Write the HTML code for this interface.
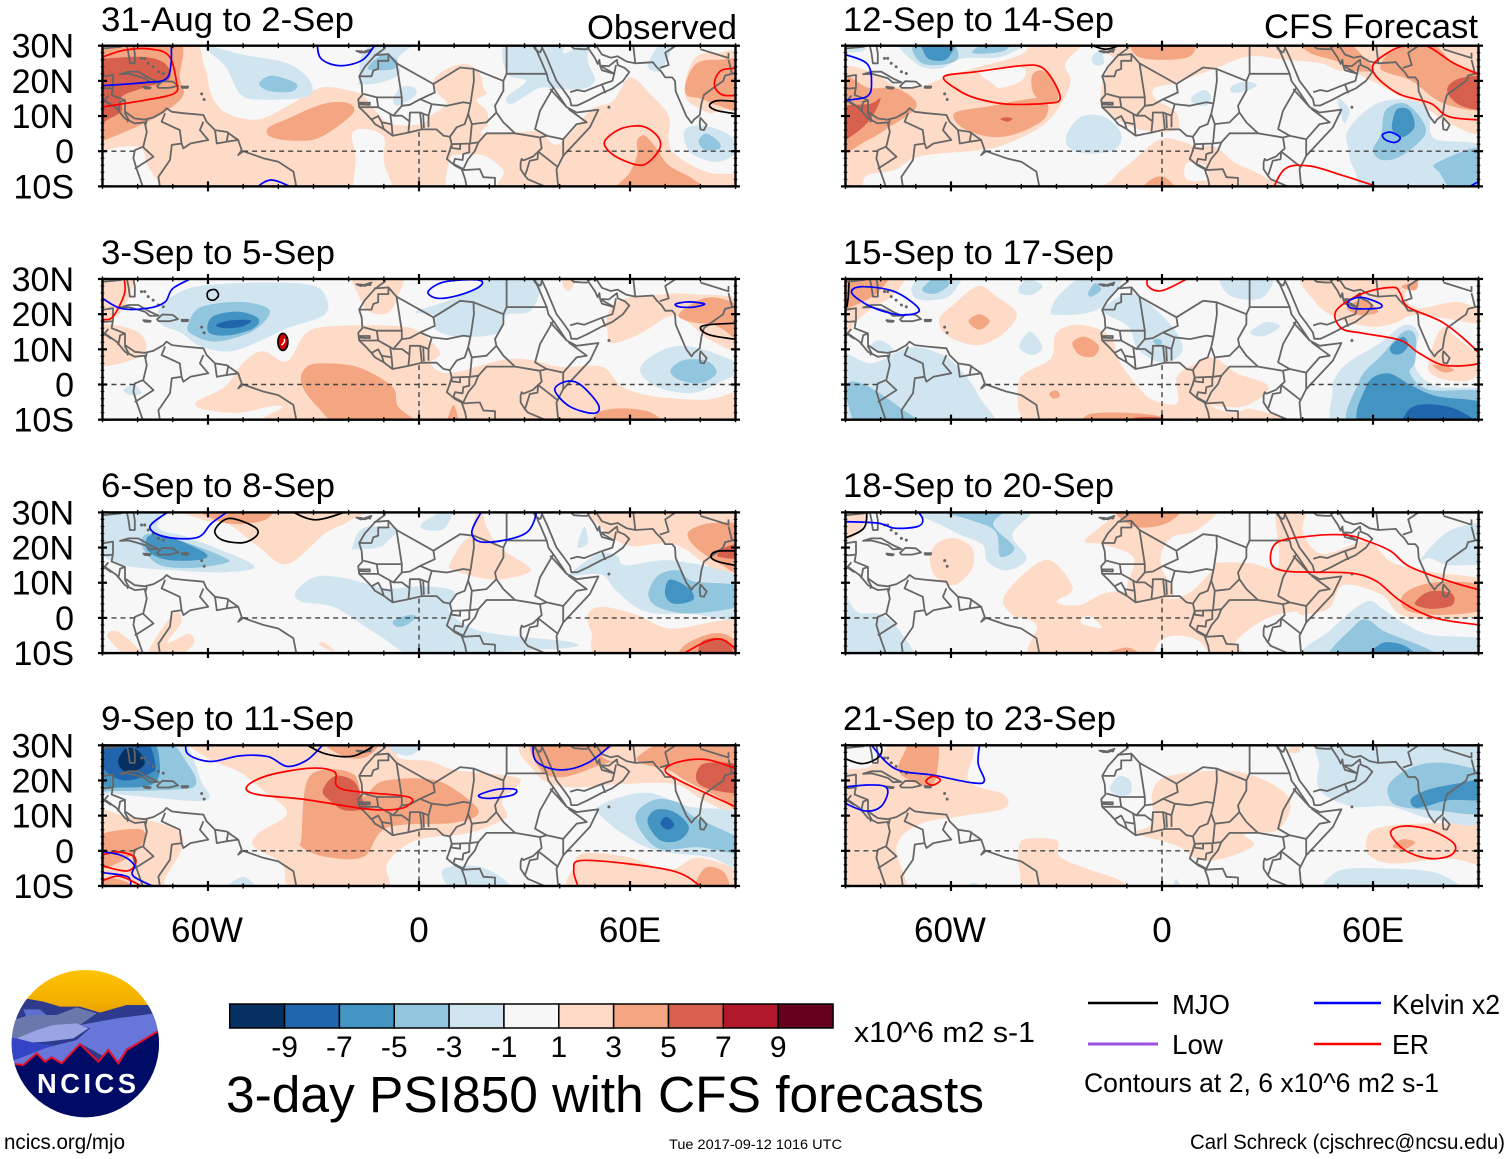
<!DOCTYPE html>
<html lang="en">
<head>
<meta charset="utf-8">
<title>3-day PSI850 with CFS forecasts</title>
<style>
html,body{margin:0;padding:0;background:#fff;}
svg{display:block;}
text{font-family:"Liberation Sans",sans-serif;fill:#000;}
</style>
</head>
<body>
<svg id="chart" xmlns="http://www.w3.org/2000/svg" width="1510" height="1159" viewBox="0 0 1510 1159">
  <rect width="1510" height="1159" fill="#fff"/>
  <g id="panels"></g>

  <text x="587" y="39" font-size="34.6" textLength="150" lengthAdjust="spacingAndGlyphs">Observed</text>
  <text x="1264" y="38" font-size="34.6" textLength="214" lengthAdjust="spacingAndGlyphs">CFS Forecast</text>

  <g id="colorbar"></g>
  <text x="854" y="1042" font-size="29" textLength="181" lengthAdjust="spacingAndGlyphs">x10^6 m2 s-1</text>

  <text x="226" y="1112" font-size="51" textLength="758" lengthAdjust="spacingAndGlyphs">3-day PSI850 with CFS forecasts</text>

  <g>
    <line x1="1088" x2="1158" y1="1003" y2="1003" stroke="#000" stroke-width="2.4"/>
    <text x="1172" y="1014" font-size="28" textLength="58" lengthAdjust="spacingAndGlyphs">MJO</text>
    <line x1="1314" x2="1381" y1="1003" y2="1003" stroke="#00f" stroke-width="2.4"/>
    <text x="1392" y="1014" font-size="28" textLength="108" lengthAdjust="spacingAndGlyphs">Kelvin x2</text>
    <line x1="1088" x2="1158" y1="1044" y2="1044" stroke="#a050e0" stroke-width="3"/>
    <text x="1172" y="1054" font-size="28" textLength="51" lengthAdjust="spacingAndGlyphs">Low</text>
    <line x1="1314" x2="1381" y1="1044" y2="1044" stroke="#f00" stroke-width="2.4"/>
    <text x="1392" y="1054" font-size="28" textLength="37" lengthAdjust="spacingAndGlyphs">ER</text>
    <text x="1084" y="1092" font-size="27" textLength="355" lengthAdjust="spacingAndGlyphs">Contours at 2, 6 x10^6 m2 s-1</text>
  </g>

  <g transform="translate(0,960) scale(0.33333)">
    <defs>
      <clipPath id="logoClip"><circle cx="256" cy="251" r="221"/></clipPath>
      <linearGradient id="sunGrad" x1="0" y1="0" x2="0" y2="1"><stop offset="0" stop-color="#ffc400"/><stop offset="0.7" stop-color="#f2b000"/><stop offset="1" stop-color="#e89c00"/></linearGradient>
    </defs>
    <g clip-path="url(#logoClip)">
      <rect x="30" y="25" width="450" height="140" fill="url(#sunGrad)"/>
      <polygon points="75,115 130,125 180,140 240,140 300,158 380,135 445,135 490,170 490,400 0,400 30,200" fill="#2e3a8c"/>
      <polygon points="70,148 120,148 140,165 80,172" fill="#5f6fd0"/>
      <polygon points="20,185 90,165 170,165 230,142 290,160 240,195 265,205 100,240 20,235" fill="#6a78ac"/>
      <polygon points="240,195 350,175 470,160 490,215 380,265 350,310 240,250 185,310 40,312 45,290 150,260 230,240 270,205" fill="#6776d8"/>
      <polygon points="50,235 110,210 160,195 230,190 265,205 220,235 140,245 90,248" fill="#9aa4e4"/>
      <polygon points="20,232 50,235 100,248 160,255 45,300 25,300" fill="#3344c4"/>
      <polygon points="40,312 70,315 110,280 135,305 155,292 185,310 240,252 295,305 325,270 355,310 380,270 472,215 490,205 490,490 0,490 0,312" fill="#000b66"/>
      <polyline points="40,312 70,315 110,280 135,305 155,292 185,310 240,252 295,305 325,270 355,310 380,270 472,215" fill="none" stroke="#e8102a" stroke-width="6"/>
    </g>
    <text x="111" y="399" font-size="82" font-weight="bold" style="fill:#fff" textLength="297" lengthAdjust="spacing">NCICS</text>
  </g>

  <text x="4" y="1149" font-size="21" textLength="121" lengthAdjust="spacingAndGlyphs">ncics.org/mjo</text>
  <text x="669" y="1149" font-size="14" textLength="173" lengthAdjust="spacingAndGlyphs">Tue 2017-09-12 1016 UTC</text>
  <text x="1190" y="1149" font-size="21" textLength="315" lengthAdjust="spacingAndGlyphs">Carl Schreck (cjschrec@ncsu.edu)</text>
</svg>

<script>
// ---------- colour scale values ----------
const colorLevels = [-9,-7,-5,-3,-1,1,3,5,7,9,11];
const colorValues = ['#053061','#2166ac','#4393c3','#92c5de','#d1e5f0','#f7f7f7','#fddbc7','#f4a582','#d6604d','#b2182b','#67001f'];
const colorbarTicks = ['-9','-7','-5','-3','-1','1','3','5','7','9'];
const latTicks = [30,20,10,0,-10];
const latTickLabels = ['30N','20N','10N','0','10S'];
const lonTicks = [-60,0,60];
const lonTickLabels = ['60W','0','60E'];
const panelTitles = ['31-Aug to 2-Sep','3-Sep to 5-Sep','6-Sep to 8-Sep','9-Sep to 11-Sep','12-Sep to 14-Sep','15-Sep to 17-Sep','18-Sep to 20-Sep','21-Sep to 23-Sep'];

// ---------- PSI850 anomaly bands: [level, [lon,lat, lon,lat, ...]] ----------
const shade31Aug = [
[3,[-92,32,-66,32,-61,24,-59,16,-55,11,-46,9,-37,13,-28,18,-19.6,17.2,-15.8,15.8,-12,11,-7.8,7.7,0.8,7.7,3,10,7.9,13.4,5.5,16.3,4,20,7.9,23.4,13.5,24.8,17.3,22,18.3,18,19.2,16.3,16.4,14.4,19.2,11.5,19.7,7.7,17.8,5,27.8,5.4,34.4,5.4,38.2,2,41,3,45.8,8.2,47.7,10.6,50,12.5,55.3,14.4,60,21,66,16,71,10,71,3,73,-1,82,-6,92,-7,92,-13,-92,-13]],
[3,[76,21,79,27,85,28,92,27,92,9,85,10,80,12,76,15]],
[1,[-19,5,-15,6.3,-10,4,-10,-3,-7.5,-10,-8,-13,-18,-13,-18,-2]],
[1,[8,-5.5,9.3,-1.5,12.6,-1,18.3,-1.2,24,-5.5,22,-10,22,-13,8,-13,7.5,-9]],
[1,[-92,-1.5,-80,1.3,-77,-4.5,-73.5,-10,-74,-13,-92,-13]],
[1,[72,3,76,8,84,11,92,11,92,-3,84,-4,76,-1]],
[-1,[-61,30,-50,27.4,-37.5,25,-31,20,-32,15.5,-46,14.7,-51,16.5,-55,24]],
[-1,[-17,20,-16,28,-10,32,0,32,-6,26.5,-5.5,22,-11,19.5,-17,19]],
[-1,[-7.3,15,-5,18.2,-1.6,18.2,-0.7,16.3,-3,14.4,-6.4,13]],
[-1,[25,31,40,31,41,28,43,28.5,48,31,48,25.5,50,20,45.5,17.5,37.5,18,33.5,17.7,26.5,13.5,25,15.5,30.5,20,25,22]],
[-1,[65,24.5,69,31,72.5,31,70,25,68,22.6]],
[-1,[76,6.5,81,7.2,87.6,5,91,0.4,85,-3,78,-1,75.5,3]],
[5,[-92,32,-69,32,-68,21,-67,16,-71.5,11.7,-78,8,-89,3.3,-92,3]],
[5,[-43,6.5,-38,9,-27,13.5,-20,13.6,-19,10.5,-28,4,-35,3,-42,4]],
[5,[62,3,64,4.5,67,1.5,71,-4,78,-8,82,-13,56,-13,60,-6,62,-1]],
[5,[76,20,79,25,85,26,92,25,92,12,85,13,80,15,76,16]],
[-3,[-45,20,-41.6,21.5,-35,19.3,-36,17,-42,17,-45,18.4]],
[-3,[-14.5,24,-10.3,27.4,-6.3,26,-7,23.5,-13,23]],
[-3,[79.5,2.7,81.5,5,85,3,85.5,0.8,81.5,0.3]],
[7,[-92,26,-88.6,26.4,-78.4,26.8,-72.3,25,-71,20.5,-78.4,18,-84.5,15.5,-84.5,11.5,-88.6,9,-92,8]]
];
const shade3Sep = [
[3,[-92,32,-82,32,-82,26,-86,19.3,-92,18]],
[3,[-92,16.5,-80,15,-78.5,8.5,-92,5.5]],
[3,[-18.5,32,-5,32,-6,25,-9,20.3,-14.4,20.8,-17,25]],
[3,[-63.4,-5,-55.2,-0.6,-50,6.2,-44.4,9.5,-37.5,6.6,-32,14.7,-24,16.6,-6,16.6,0.5,14.7,6,9,3.3,6,8.7,3.2,23.7,7,31.8,7,40,5,52,5,57.7,-0.6,67,-3.4,82,-4.3,92,-2.4,92,-13,-35,-13,-39,-6.2,-51,-8,-60.7,-7.2]],
[3,[53.6,19.8,57.7,24.2,70,25.7,76.7,25.7,92,23.5,92,10,83,12.5,76,18,71,19.3,63,14.5,55,11.7,53.6,15]],
[3,[41,32,45,32,43,26.8,41,28]],
[-1,[-73.6,22,-67.5,26.5,-60,28.3,-45,29,-32,28.5,-27,26,-26.7,20,-37.5,16,-45.6,12.2,-54,9.4,-62,10.8,-67.5,14.6,-73.6,17.4]],
[-1,[-1,20.7,10,24.5,25,32,35,32,32,21.2,25,19.8,22,14.5,11.4,13.6,4.7,15.6,4,19.8]],
[-1,[63,5,67.3,8.8,74,11,82,9.6,92,4.8,85,0.4,78,-2.4,70,-1.5,64.5,1.3]],
[-1,[-84,-1.5,-81,-0.1,-79,-2.5,-82,-3]],
[5,[-33.5,0.4,-32,5,-26.7,6,-17,4.8,-7.6,-0.6,-6,-6.2,-0.8,-12,-21,-12,-29,-6.2]],
[5,[8.7,-8,10,-6,11.4,-12,8,-12]],
[5,[51,-8,57.7,-6.8,66,-8,68.5,-12,50,-12]],
[5,[74,20.2,81,24.5,87.6,24,92,21,92,12,85,16.5,76.5,18]],
[-3,[-65.5,17.4,-62,22,-51,23.5,-43,21.7,-43.5,18.4,-48.5,14.6,-58,12.2,-65,14.6]],
[-3,[71.5,4,75.5,7,82,6.6,84.6,3.2,80,0.4,74,1.3]],
[-5,[-60,17.4,-57.7,19.8,-51,20.7,-45.7,18.8,-47,16,-53.9,14,-59.4,14.5]],
[-7,[-57.7,16.9,-53.9,18.2,-47.8,18.2,-50.5,16.4,-55.2,16]]
];
const shade6Sep = [
[3,[-66,32,-16,32,-20,27.5,-26.7,24,-37.5,15.3,-46,20.5,-54,26.5,-62,28]],
[3,[17,32,19.6,25,23.6,19.5,31.8,13.7,23.6,11,17,11.5,10,13.5,8.7,15,12,21,14.8,24]],
[3,[51,32,92,32,92,12,83.5,14,72.6,21,60,20.5,52,25.5]],
[3,[48,0.9,52,3.2,61.8,0.9,71.3,-3,84.6,-1,92,-1,92,-12,53.5,-12,49,-4]],
[3,[-88.7,-5,-85.4,-4,-79,-10,-84,-10]],
[3,[-75.6,-7,-69.5,1.4,-67.5,-1,-71.5,-7,-65.5,-4.5,-64,-7,-67.5,-10,-76,-10]],
[3,[-28.5,-7.5,-27,-7,-24,-9.5,-26,-9]],
[-1,[-92,32,-74,32,-74,25.5,-65,22.7,-47,15,-55,13,-69,13.5,-84,15,-90,19]],
[-1,[-35,7.5,-29.4,11.7,-21,11.3,-9,8.4,0.5,9,10,7.5,8.7,1.8,15.4,-3,25,-5,42.7,-6.8,42.7,-8.5,16,-10,0.5,-12,-11.7,-4.8,-24,3,-33.5,4.6]],
[-1,[0.5,26.5,4.6,29.3,10,32,7.3,25.5,2,25]],
[-1,[-19,20,-15.8,25.5,-6.3,25.5,-9,21.7,-11.7,20,-18,19.5]],
[-1,[45,20.5,47,26,48,21.5,46,20]],
[-1,[43.4,13,51,18.2,56.3,17.7,59,15,72.6,16.3,92,11,92,0,78,1,64.5,1.8,56.3,7.5,52,12.3,44,12]],
[5,[-63.4,32,-43,32,-43.5,28,-52.5,26.7,-59.3,28.5]],
[5,[76.7,24.6,83.5,27,92,25.5,92,13,85,15.7,78,20.7]],
[5,[75.5,-7.8,83.5,-4.4,89,-5.8,92,-12,75,-12]],
[-3,[-79,21,-76,24,-64.6,20.9,-55,17,-55,15.6,-64.6,14.2,-74,15.2]],
[-3,[65.2,6.5,68,12.1,74,13.5,78,10.4,92,9,92,3.7,78,1.3,68.6,2.8]],
[-3,[-7.4,-1,-3.5,0.7,-0.8,0.4,-3.5,-2,-6.3,-2.5]],
[7,[87,20,92,21,92,17,85,17.5]],
[7,[80.5,-6.7,86.5,-6,89,-10.5,80,-12]],
[-5,[-77,23.2,-71.5,23.2,-60.7,18.4,-62.7,16.5,-71.5,16.5,-77,19]],
[-5,[70,6.5,71.3,10.9,76.7,8.5,78,5.2,72.6,4]]
];
const shade9Sep = [
[3,[-62,32,-10,32,-6,26.5,3,25.5,10,23,22.3,21.7,29,20,23.7,14.5,25,10.6,23.7,8.7,14,5,-0.8,3,-9,-3.6,-10,-12,-35,-12,-39,-3.6,-47,1.1,-45.7,5,-37.5,10.7,-44.4,17.3,-51,22.4,-60.7,26.7]],
[3,[-92,10,-84,10,-70.5,6.8,-67,2,-72,-7.4,-74.3,-12,-92,-12]],
[3,[33,32,92,32,92,11,81,14.4,72.6,19,58,19,41.4,18.2,33,22.4]],
[3,[44,-4.5,47,-0.7,59,-1.7,71,-5.5,79.5,-2,92,-6.4,92,-12,46,-12]],
[-1,[-92,32,-69,32,-62,20,-60.7,14.4,-78.5,15.4,-87.3,16.3,-92,17]],
[-1,[-8,30,-2,32,3,32,-2,27.3,-7,28]],
[-1,[6.7,-5.4,17,-4.5,25,-8.8,25,-12,11,-12]],
[-1,[-56,-12,-50,-7.4,-46,-12]],
[-1,[51,12.6,57.7,15.4,66,16.4,76.7,12.6,92,10,92,-4.5,82,-1.7,67,0.2,57.7,5,51,10.7]],
[5,[-33.4,4,-32,19.4,-26.7,23.1,-18.5,21.7,-15.8,15.5,-10.3,19.8,3.3,20.3,11.4,16.6,17,11,10,8,-9,6.6,-15.8,-1.7,-26.7,-1.7,-33.4,1.1]],
[5,[-92,4,-78.8,6,-80,0.2,-88,-4.5,-92,-4]],
[5,[-90,-8,-84,-8.5,-79,-12,-92,-12]],
[5,[-28,32,-11.7,32,-14.4,27,-21,26.7]],
[5,[33,32,56,32,52,27,57.5,24.5,53.6,25,41.3,21,34.6,23]],
[5,[63,27.4,72.5,32,92,32,92,12,85,15.4,75.8,20,71,22.9,63,25]],
[5,[79,-8.4,82,-4.6,87,-6.4,87.6,-12,79,-12]],
[-3,[-92,32,-73,32,-65.5,24.3,-63.4,19,-68,17.5,-87,17,-92,18]],
[-3,[61.8,10.7,67.2,14.6,74,13.6,78,9.8,92,3,92,-1,79.5,1,68.6,0.5,63,5.7]],
[7,[-27.4,17,-24,21.2,-18.5,19.8,-15.8,14,-14.4,12,-21,11.5,-25,14]],
[7,[79,22.4,82,25,92,24,92,17,85,17,79.6,19]],
[-5,[-92,27.5,-92,32,-77,32,-73.7,24.8,-75.6,19,-85,18,-90,19]],
[-5,[65,8,67.2,11.6,72.6,11,76.7,6.8,74,3,68.6,3]],
[-7,[-90,24,-88,31,-78,31.5,-75,24.8,-76.4,22,-84,20]],
[-7,[68.6,7.8,70.4,9.7,72.6,7.4,70.6,6]],
[-9,[-85.5,25.7,-83.4,29,-80,28.6,-78,24.8,-81.4,22.4,-84.4,23]]
];
const shade12Sep = [
[3,[-92,21,-83.4,22.8,-75.8,18.5,-69.6,18,-62.7,20.6,-53.8,23.5,-40,27.5,-36,32,-22,32,-27.5,25,-26,20,-29,13,-34.3,7,-44,2.2,-51,0.4,-69,-1.5,-75.8,-5.3,-84,-7,-86,-12,-92,-12]],
[3,[-10,32,-14,26,-17,19,-17,13.5,-12.5,9,-5.5,6,4,6,4,11,-2,15,-2,18,4,19.5,15,23.5,25,27,35,26,45,25,50,23,54,22.6,61,19.3,68,15.5,76,11.7,81.5,8,92,6.4,92,32]],
[3,[-13.6,-7.5,-8,-2.5,-1,3.2,4.3,3.2,10,1.3,15,1.3,21,-3.4,29,-7.2,32,-12,-14,-12]],
[1,[-48.3,19.3,-46,18,-40,20,-39,23.5,-45.5,24,-52,22.6]],
[1,[7,-3.4,12,-4,13,-8,7,-8]],
[-1,[-73,32,-70,25,-63.4,23.5,-56.6,26.4,-45.5,26.9,-40,32]],
[-1,[-92,32,-84,32,-85,28.5,-92,28.5]],
[-1,[-27,5,-23,9.8,-16.4,9.8,-11.6,5,-13.7,0.3,-22,-0.6,-26.7,1.3]],
[-1,[-20,26.8,-17.5,28.5,-16.5,25,-19,24.5]],
[-1,[19.7,18.4,23.7,19.8,27,18.8,23.7,17,20,16.7]],
[-1,[8.5,15.5,12,17.4,14,15.5,12.6,13,9,13.6]],
[-1,[50,14,50.5,15,53.3,11.7,51.8,8]],
[-1,[53,6.2,61,13.5,71,14.5,76,11,77.5,3.6,92,1,92,-13,60.8,-13,54.6,-5,53,0.4]],
[5,[-92,21,-83.4,18,-76,18,-70.5,14.8,-70.5,11.7,-77.3,7,-84,3,-92,0.5]],
[5,[-59,10.8,-49.5,12.7,-34.4,15,-33,9.8,-40,5.5,-48,4,-56.5,6.5]],
[5,[-37,21.3,-34.4,23,-31,20.3,-29.5,15,-33,13.6,-36.5,16.4]],
[5,[-8,32,8,32,8.4,27.3,1.5,26,-7,27]],
[5,[39,32,51,32,58,26,60,23,54,23,50,25.5,42,28]],
[5,[62,24,66,29,76,31,83,25,92,21,92,12,80,13.6,71,20,65,22]],
[5,[-6,-12,-3,-8,1,-7.5,4,-12]],
[-3,[60,0.4,62.3,5,63.6,11.7,69,13.6,74,8.8,74.5,4.2,67.7,-1.5,62.3,-2.4]],
[-3,[78,-3.4,92,0.8,92,-13,84,-13,79,-6.2]],
[-3,[-71,31,-64,32,-60,32,-58,26.4,-63.4,24.5,-69,25.5]],
[-3,[-54,28,-48,32,-43,32,-45,28.5]],
[7,[-92,12,-83,13.5,-80,15,-83,9,-88,4.5,-92,3]],
[7,[81.6,18.8,85.8,21,92,20.5,92,12.5,85.8,12.6,81.6,15.8]],
[7,[-46,9.2,-44,9.6,-42.5,9.2,-44,8.4]],
[-5,[65.6,8.8,67,12.1,70.4,11.6,71.8,6.9,68.4,4,65.6,5.9]],
[-5,[-68,32,-59,32,-61,26.4,-65.5,25.9,-67.6,27.8]]
];
const shade15Sep = [
[3,[-92,32,-74,32,-76,25.8,-83.4,21,-88.2,16.3,-90,11.5,-92,11.5]],
[3,[-63.4,18.4,-59,23,-52.2,28,-47,25,-41.3,20.2,-45,14.6,-52.2,11.2,-60.6,13.6]],
[3,[-41,-5.3,-40,2.3,-31.6,7.4,-30,14.7,-23.3,17,-15,13.9,-12,6.4,-6.8,-0.6,-2.6,-4.4,4.3,-5.3,4.3,2.3,10,6.2,15,7.6,21,3.4,30.3,-0.6,23.5,-6.2,14,-6,20,-8,26,-7,34,-12,-38,-12,-40,-9]],
[3,[41,32,73,32,69,25.5,73,21.7,84,23.5,92,20,92,17,88,17.5,72.6,19.8,66,17.4,59.5,16.4,51,18.4,44,23]],
[3,[75.8,6,78,13.6,80.7,16.4,83.5,13.6,92,7,92,5.8,87.7,1.3,80.7,1.3,76.4,3.2]],
[-1,[-71,28,-67,32,-57,32,-60,25.5,-65,24,-70,24.5]],
[-1,[-40.5,28,-38,30,-34,28,-37,25.5,-40.5,26]],
[-1,[-31.6,21,-29,25.7,-20.5,32,-10.7,32,-16,23,-22,20.2,-30,19.8]],
[-1,[-17,21.6,-9.2,25.9,-2.6,22,4.3,14.6,5.6,9,0,6.2,-6.8,10,-9.5,16.4,-16,20]],
[-1,[17.5,32,31.2,32,29,25,22,24.4,17.5,27]],
[-1,[25.6,15.5,30,17.8,33.5,16.4,29,13.8,25.6,14.2]],
[-1,[-40.6,10.7,-37.5,15,-34,10.7,-36.8,8.4]],
[-1,[-82.7,11.2,-80,12.6,-76.5,10,-80,8.9]],
[-1,[-92,8,-82.5,6,-72,10.5,-63.5,8.9,-58,5,-52,-3.4,-50,-13,-92,-13]],
[-1,[50,3.2,54,7,62,11.8,69,17,73,14.6,71.5,8,73,3.2,78.5,-0.6,92,-2,92,-13,52,-13,48.5,-2]],
[5,[-92,32,-78,32,-81,26,-89,21.7,-92,20]],
[5,[-55,18,-52,20,-49,18,-52,15.6]],
[5,[-25.5,11.8,-22,13.6,-18,11,-19.4,8,-23.4,8.4]],
[5,[-32,-2.5,-30,-1.7,-29,-3.3,-31,-4]],
[5,[-21,-8.6,-12,-8,-1,-9,0,-12,-21,-12]],
[5,[52.5,22,57.3,24,61.5,20.7,56,19.8]],
[5,[68,27.8,72.5,29.3,72,26.8]],
[5,[77,5.5,81,5.2,83,4,80,3.5]],
[-3,[-91,-2,-88.5,0.8,-83.5,-0.6,-75,-6.2,-67.5,-13,-85,-13,-89.5,-5]],
[-3,[55,-13,56,0.8,62.5,8.4,68.7,15,72,14,72,6.6,70.5,3.2,76,-1.5,92,-2.4,92,-13]],
[-3,[-68,27.5,-63.5,31,-60.5,28.5,-64,26,-67,26]],
[-3,[-21,26,-19,28.8,-17.3,27,-20,25]],
[-3,[-2.5,12.4,-1,13,0,12,-1,11]],
[7,[-8,-9.5,0,-9.5,0,-12,-8,-12]],
[-5,[58,-13,58,-0.6,64,3.2,71.5,-0.6,78.5,-3.4,92,-5.5,92,-13]],
[-5,[65,10.8,68.5,13.6,70,11.2,68,8.8,65.5,8.8]],
[-7,[69.5,-8,73.5,-5.7,81.8,-6.4,88.7,-10,89,-13,69.5,-13]]
];
const shade18Sep = [
[3,[-92,32,-84,32,-86,24.6,-92,22]],
[3,[-66,16,-64.5,20.8,-59,22.7,-54,19.8,-54,14,-59,9.4,-64,11.3]],
[3,[-22,21.7,-18,25.5,-12.3,30,-11,32,15,32,10,25,3,23,0,18.9,0,14,3,6,-9.5,7.4,-8,17,-16.4,20.8]],
[3,[-44.7,6.6,-33,16.5,-25.4,8.5,-30,4.6,-23.3,3.7,-13.7,7.5,4.3,5.6,14,13.2,15.3,15.6,25,15.6,33,15,32.6,32,41,32,40,24.6,45.6,18.2,58,22,62,19,66,15.5,77,13,92,10.4,92,1.8,81,-0.5,68,0.9,62.5,6.6,51.7,9.4,47.5,2.8,40,0.9,37.4,1.8,29,-0.5,21,-6.8,21,-13,-34,-13,-35.7,-2,-42.6,0.9]],
[1,[-23,-0.5,-20.5,0.5,-17,-2.8,-22,-2]],
[1,[-1,-7,4.3,-5,11,-7,13,-13,-1,-13]],
[-1,[-74.5,32,-70,29.5,-63,26.5,-57.3,23.6,-51,20.8,-49.6,16,-44,13.5,-38.5,17,-42.6,23.6,-38.5,32]],
[-1,[-92,8.5,-86.8,1.8,-80,1,-74.5,-3.8,-71,-13,-92,-13]],
[-1,[40.5,-13,48.4,-3,58,4.6,62.5,2.7,68,-1,76.4,-4.8,92,-6.2,92,-13]],
[-1,[73,16,81.5,24.6,92,26,92,13,90,15,81.5,15,76,17]],
[5,[-20,-12,-10,-8.4,-6,-12]],
[5,[-13.5,32,5,32,1.5,27,-8,26]],
[5,[68,5.5,72,8.8,80.5,10.3,92,9,92,2.8,81.5,0.9,70.4,1.8]],
[-3,[48,-13,55,-2,58.8,-0.7,63.6,-4,76,-9,80,-13]],
[-3,[-68,32,-45,32,-48,26.5,-42,20,-46,17.5,-47.4,24.6,-55,28]],
[7,[72,4.5,76,7.5,82.3,7,82.6,3.7,77.4,2.6,73.3,3.2]],
[-5,[58,-13,62.5,-7.2,69.5,-8.2,73,-13]]
];
const shade21Sep = [
[3,[-92,32,-56,32,-55,20,-45,16,-45,12,-57,9.9,-69,7.5,-75.5,1,-73,-13,-92,-13]],
[3,[-7,5,-2.6,8,-2.6,17.3,3,21.5,22,22.4,36,15.3,33,6,23.5,5,26,1.4,16.7,-2.4,10,-2.4,4.3,1.4]],
[3,[-40.6,1.4,-38.5,3.4,-30,3,-29,-1.7,-20.5,-5.4,-12,-8.4,-8,-13,-36,-13,-40.6,-5]],
[3,[58,2.1,61,6.4,76,7.8,92,6.8,92,-3.6,81.5,-2.2,66,-3.6,59.4,-1.7]],
[3,[36,29,39,30.5,39,28,36,28]],
[1,[-92,29,-84,31,-78,31,-83,24,-92,24]],
[-1,[44.7,24,48,32,92,32,92,9,77,9,65,12.6,54,12.6,45,17]],
[-1,[-14.8,17.7,-12.3,21.2,-9,20,-9,16.3,-12.3,15.8]],
[-1,[48,-13,49.6,-6,62,-5,78.7,-6.5,84,-13]],
[-1,[3,-13,4,-8,6,-13]],
[-1,[-57,-13,-53.5,-9,-50,-13]],
[5,[-75,23.2,-73,28.5,-71,32,-64,32,-64,22,-66,18.4,-71.6,20]],
[5,[65.6,1.2,68.4,3.3,72,2.4,69,0.5]],
[-3,[64.6,19,69.5,23,76.4,25,84.7,24.3,92,21,92,11,78.7,11.4,67.7,12.6,64.6,15]],
[-5,[71,15,76.4,17.6,86,19.5,92,20.5,92,14.8,81.5,14.4,74.6,12.5,71.5,12.5]]
];

// ---------- wave filter contours: [wave, closed, [lon,lat, ...]] ----------
const waves31Aug = [
['E',0,[-92,26,-84,28.7,-76,29,-71,27,-69,20,-69.5,16.5,-78,14.5,-92,12.3]],
['K',0,[-92,18.5,-78,19.5,-72,20.5,-70.5,25,-70.5,32]],
['K',0,[-29,32,-28,26.5,-22.5,24.3,-16,26,-12,31]],
['K',0,[-48,-12,-42,-8.2,-33,-12]],
['E',1,[53,3.2,57.7,6.5,63.8,7,68,4,68.3,0.4,63.8,-3.9,57.7,-2.4,53.6,0.4]],
['E',0,[92,23.6,86,23,84,19,86.3,16,92,16]],
['M',0,[92,14,85,14.4,82.6,13,85,11.5,92,10.4]]
];
const waves3Sep = [
['E',0,[-84,31,-83.7,26,-87,19.3,-90,18.4,-93,18]],
['K',0,[-92,26,-85,21.7,-77,21.7,-72.2,23.5,-70,27.3,-64,30.5]],
['M',1,[-60,26.4,-58,27,-57,25.4,-58.3,24,-60,24.5]],
['K',1,[2.6,26.4,7.3,29.2,17,29.7,17.2,27.8,11.4,25.4,5.3,24.5]],
['K',1,[73,22.9,76.7,23.5,81.2,22.9,78,22,74,22.1]],
['M',0,[92,17.5,82.5,17,80,16,83,14,92,12.6]],
['K',1,[38.6,-1.5,42,0.9,46,-0.1,51,-5.8,49.7,-8.2,42.8,-6.2]]
];
const waves6Sep = [
['K',0,[-70,31,-76.5,26,-72,23,-63,22.9,-59,26.9,-53.9,30.5]],
['M',1,[-58,25,-54,28.3,-47,26,-46,23.6,-50,21.4,-56,22.2]],
['M',0,[-37.5,31,-29.4,27.9,-18.5,31]],
['K',0,[18.2,31,15,24.2,19,21.5,30.5,24.2,34,32]],
['M',0,[92,19,85,19,83,17.5,85,16,92,14.5]],
['E',0,[75.5,-10,81,-7,85.6,-6,89,-8,92,-12]]
];
const waves9Sep = [
['K',0,[-66,32,-65.8,27.6,-59.3,25.4,-51,27,-43,26.8,-37.5,24,-32,25.7,-27.4,30]],
['M',0,[-33.5,31,-26.7,27.6,-18.5,27,-11,31]],
['E',1,[-49,18.2,-43,21.4,-30.8,23.5,-24,22.4,-22,17.6,-3.5,15.4,-3,13,-7.6,11.7,-16,12,-32.4,14.6,-46,16]],
['K',1,[17,15.8,22.3,17.5,27.5,17.4,26.4,15.8,19.6,14.9]],
['K',0,[32.5,32,33.2,25.6,40,23,48,25,55.6,31]],
['E',0,[92,22.7,82,25.9,74,25.3,70,23,74,20,92,11.6]],
['E',0,[46,-12,44,-5.5,47.5,-2.7,71.3,-5.5,80,-10]],
['E',1,[-92,-2,-86,-0.3,-81,-1.7,-81,-4.5,-84,-5.7,-92,-3.5]],
['K',0,[-92,0,-85,-1.2,-81,-4,-81,-7.4,-71,-12]],
['K',0,[-92,-6,-84,-7,-82,-8.5,-82.5,-12]],
['E',0,[-92,-9.4,-85.5,-7.2,-79,-10]]
];
const waves12Sep = [
['E',1,[-62,21.2,-52.7,22.6,-40,24.3,-34.5,24,-31,20.2,-29,14.8,-33,13.6,-44,13.4,-52.7,15,-58,17.4]],
['E',0,[92,21,83,25,75,30,67.7,29.7,61,25.7,60,22.8,62.7,19.5,68,16,76.4,13.6,81.6,9.8,92,8.8]],
['E',0,[31,-12,35,-5,42,-4.2,51,-6.8,61,-10]],
['K',0,[-92,28,-84,25,-82.6,19,-84,15.5,-90,14.5,-92,14.4]],
['K',1,[62.7,4.7,65,5.4,67.7,3.9,66.3,2.5,63.6,3.2]],
['K',0,[84,-12,92,-7.5]],
['M',0,[-22,31,-16,29,-10,31]]
];
const waves15Sep = [
['K',1,[-88.2,26,-85.4,27.8,-76,26.4,-69,21.2,-74.5,19.8,-82.7,22.1]],
['M',0,[-89,29,-89.2,25,-89.6,22]],
['E',0,[-4,31,-4,28,0,26.7,8,30.5]],
['E',1,[49.5,21,57.3,26,65.6,27.6,67.7,26,70,22,80.2,17.4,90,9,90,6,80.2,5.5,73,9,67.7,12.6,57,14.6,51,16]],
['K',1,[53,23.6,56.6,24.8,62,23,61.5,21.7,54,21.7]]
];
const waves18Sep = [
['K',0,[-92,27.4,-81,27,-76,25.5,-69.5,26,-68,28,-70,31]],
['M',0,[-84,32,-84.8,25.5,-92,22]],
['E',0,[92,7.5,82,10.3,70.4,14.6,65,19,58,22,52,23.6,41.5,23.2,32.5,21.3,31,15.6,34.6,13.4,43,13,54,12.7,61,10.4,68,4.7,77.6,0,92,-2.2]]
];
const waves21Sep = [
['M',0,[-92,27,-85.5,24.8,-80.5,26.7,-80,30,-84,32]],
['K',0,[-83.4,31,-76,23.4,-65,21.5,-53.7,19.3,-50.5,20,-52.3,25,-51.6,32]],
['E',1,[-67,20.1,-65,21.2,-63,20.1,-65,18.7,-66.7,19.2]],
['K',0,[-92,18,-84,18.7,-79,18.4,-78,16.3,-80,12.5,-84,11.3,-89,13,-92,15]],
['E',1,[65,5,68.4,7,76,6,83,2.1,82.2,-1.2,76,-2.2,69,0.2]]
];
const hurricaneLon = [-38.7];
const hurricaneLat = [12.1];

// ---------- basemap (lon,lat polylines) ----------
const coastlines = [
[-9.7,30.5,-9.7,29.3,-12.5,27.2,-15.4,24,-17,21.3,-16.3,19,-16.1,16,-17.3,14.7,-17,12.5,-15.4,11,-13.5,9,-12.5,7.7,-10,6.3,-7.5,4.4,-3,5.3,0.8,6.2,5,6.2,7,4.4,8.8,4.1,9.3,2,8.6,-0.3,7.9,-2.2,10.2,-4.1,12.1,-5.1,13.1,-7.9,13.6,-10.4],
[33,30.5,33,29.6,34.7,25.8,36.3,22,36.8,20,38.2,18.1,42,12.5,44.8,11,51,11.8,48.6,6.8,41,-1.3,39.1,-5.1,39.6,-10.5],
[-84,30,-85,29.7,-90,29.2],
[-83,29.7,-82.6,27.8,-82.2,25,-80.8,25,-80.8,27.8,-81.3,30.5],
[-90,21.2,-87,21.7,-87,18.3,-87.4,16,-83.6,14.5,-83.6,11.2,-80.8,9.3,-78,9,-75.5,9.6,-72.7,11.2,-71.8,12.2,-70.3,11.2,-67,10.8,-61.3,10.3,-60.4,8.4,-58,6,-54.7,5.5,-51.4,3.2,-50.4,0.3,-51.4,-1.1,-50,0,-44.3,-2,-40,-3,-35.7,-5.8,-34.8,-10.5],
[-91,15,-89.3,14.5,-86,12.2,-83.6,9.3,-80.8,7.9,-78,8.2,-77.4,5.5,-78.4,1.3,-80.8,0.3,-81.2,-2,-80.3,-5,-78.4,-10.5],
[34.5,28,35,29.5,36.3,26.7,39.1,20,41,17.5,42.9,14.8,43.3,13,45,13,48,14.4,52,16.5,55,17.8,58,20,59.8,22.5,58.5,23.7,56.5,24.5,56.3,26,55,25,54,24.2,51.5,24.3,51.3,26,50.8,24.8,50,26.5,48,29.5,49,30],
[34.5,28,33,29,32.5,30],
[49,30,50.5,29.8,52,27.5,54.5,26.6,56.5,27,59,25.5,61.5,25,66.5,25.3,67.5,24,69,22.5,70,21,72,21,72.8,20,73,17,74.5,13.5,76,10,77.5,8,78.2,9,79.8,10.3,80.3,13.5,81,16,83,17.5,86.5,20,87,21.5,89,22,91,22.5]
];
const islands = [
[-85,21.9,-82.6,22.6,-79.8,22.6,-76.5,20.7,-74.1,19.6,-76.5,19.5,-77.9,20.7,-80.3,21.4,-82.6,22],
[-74.5,18.5,-73,19.9,-70,19.8,-68.5,18.6,-71,18,-74,18],
[-78.4,18.3,-76.3,18.1,-76.5,17.8,-78,17.9],
[-67.5,18.4,-65.6,18.4,-65.8,18,-67.4,18],
[-17.8,28.5,-16.2,28.4,-15.5,28,-14,28.5,-13.5,29,-16.5,28],
[80,9.5,81.8,7.5,81,6,80,6.2,79.8,8],
[29.2,-2.2,29.7,-2.6,32.4,-1.5,33.9,-0.1,33.7,-2.3,31.5,-2.7,30.6,-5.6,30.1,-7,28.9,-5.1,28.9,-3.2]
];
const smallIslandLon = [-78.9,-78,-77,-75.6,-74.1,-72.7,-61.8,-61.1,54,-16.5,-14];
const smallIslandLat = [26.4,26.4,25,24,22.6,22.1,16.3,14.7,12.5,28.2,28.4];
const borders = [
[-12.8,27.3,-8.7,27.6,-8.7,25.7,-11.6,25.7,-11.6,23.4,-13,22.9,-13.5,21.3,-17,21.3],
[-8.7,27.6,-6.4,25,-4.9,15.3,-12,15.3,-15.8,16.3],
[-6.4,25,4.1,19.1,4.5,16.7,0.3,14.8,-2.6,13.2,-4.9,12.9,-7.3,10.1],
[-4.9,15.3,-4.9,12.9],
[-12,15.3,-11.6,12.5,-8.2,10.6,-7.3,10.1,-4.9,10.1,-2.7,8.5,-3,5.3],
[4.1,19.1,11.7,23.8,15.5,23.4,24,20,24.9,22],
[24.9,31,24.9,22,36.3,22],
[24,20,24,17.2,21.6,12.9,22,11,24,8.2,27.3,5.1],
[15.5,23.4,15.6,20,14.7,13.9,14,10.6,15,7.7,19.2,8.2,22,11],
[0.3,14.8,3.6,13.4,7.9,12.9,12.6,13.9,14.7,13.6],
[3.6,13.4,2.7,10.1,2.7,6.8],
[8.8,4.1,10.7,6.8,13,7.7,14,10.6],
[9.3,2,14.5,2.2,16.9,2.5],
[15,7.7,14.5,2.2],
[16.9,2.5,19.2,5.1,27.3,5.1,34.4,3.9,36.3,4.4,41,3.4],
[38.2,18.1,34.4,11.5,33,6.3,36.3,4.4],
[37.3,17.7,42,12.5],
[41,3.4,44.8,7.7,47.7,8.2,42.5,12],
[41,3.4,41,-1.3],
[34.4,3.9,34.9,0.8,33.9,-0.1,39.6,-4.6],
[30.1,-7,31,-8,36.9,-10.5],
[-17,13.8,-14,13.8,-14,13.2,-17,13.3],
[-17,12.5,-11.6,12.5],
[-13.5,9,-11.6,10,-10.6,8.2,-10,6.3],
[-10.6,8.2,-7.8,7.7,-8.2,10.6],
[-7.8,7.7,-7.5,4.4],
[-2.7,8.5,-2.6,11,0.3,11,2.7,10.1],
[0.3,11,0.8,6.3],
[1.2,10.6,1.4,6.6],
[9.3,2,9.3,0.9,11.7,0.6,11.7,2],
[14.3,2.2,14.3,-0.3,12.6,-0.8,12.4,-2.5,10.2,-2.2,9.8,-3.6],
[16.9,2.5,15.9,0.1,14,-2.2,12.6,-5.1,9.8,-3.6],
[12.1,-5.4,17.3,-5.1,18.3,-7.4,21.6,-7.6,21.6,-10.5],
[-72.2,10.8,-73.2,8.4,-68,6,-67.5,2.2,-70.3,1.8,-70.8,-2.5,-74.1,-7.3,-73.6,-10.5],
[-78.4,1.1,-75.5,-1.6,-80.8,-5],
[-61.3,8.4,-62.3,6,-59.9,3.2,-65,2.2,-67,0.8,-67.5,2.2],
[-58,6,-57.5,2.2,-54.7,2.7,-54.2,5.5],
[-54.7,2.7,-51.4,3.2],
[-77.4,8.9,-77.8,7.3],
[-87,18,-89.2,17.8,-91,18],
[-88.3,15.8,-89.5,14.4,-87.5,13],
[-83.6,14.5,-85,14,-85.5,11.2],
[-83.7,11,-82.6,9,-83,8.3],
[43,16.8,45,17.4,47,17,52,19,55,20,55.5,22,52,23,51.5,24.3],
[52,19,53,16.5],
[52,24,55.5,22,56,24.5],
[42,31,44,29.2,46.5,29,48,29],
[35,29.5,35,31],
[61.5,25,61,29.5,60.8,30.5],
[68.5,23.7,71,24.5,70,28,73,30],
[80,29,88,26.5,88,28],
[88,26,88.5,24,89,22]
];
const equatorOceanLon = [[-90,-80],[-50,9],[42,90]];
const primeMeridianOceanLat = [[5.5,-10]];

// ---------- layout ----------
const NS = 'http://www.w3.org/2000/svg';
const DEG = 3.517;
const drawOrder = [3,1,-1,5,-3,7,-5,-7,-9];
const layout = [
 {name:'31-aug',col:0,top:45.7,titleBase:31,titleWidth:253,shade:shade31Aug,waves:waves31Aug},
 {name:'3-sep',col:0,top:279,titleBase:264,titleWidth:234,shade:shade3Sep,waves:waves3Sep},
 {name:'6-sep',col:0,top:512.4,titleBase:497,titleWidth:234,shade:shade6Sep,waves:waves6Sep},
 {name:'9-sep',col:0,top:745.3,titleBase:730,titleWidth:253,shade:shade9Sep,waves:waves9Sep},
 {name:'12-sep',col:1,top:45.7,titleBase:31,titleWidth:271,shade:shade12Sep,waves:waves12Sep},
 {name:'15-sep',col:1,top:279,titleBase:264,titleWidth:271,shade:shade15Sep,waves:waves15Sep},
 {name:'18-sep',col:1,top:512.4,titleBase:497,titleWidth:271,shade:shade18Sep,waves:waves18Sep},
 {name:'21-sep',col:1,top:745.3,titleBase:730,titleWidth:273,shade:shade21Sep,waves:waves21Sep}
];
const colZero = [419,1162];
const colTitleX = [101,843];
const waveColor = {E:'#ff0000',K:'#0000ff',M:'#000000'};

function colorFor(level){ return colorValues[colorLevels.indexOf(level)]; }
function mk(tag, attrs, parent){
  const el = document.createElementNS(NS, tag);
  for (const k in attrs) el.setAttribute(k, attrs[k]);
  if (parent) parent.appendChild(el);
  return el;
}
function project(flat, xs, ys){
  const pts = [];
  for (let i = 0; i < flat.length; i += 2) pts.push([xs(flat[i]), ys(flat[i+1])]);
  return pts;
}
function smoothPath(pts, closed){
  const n = pts.length;
  const at = i => closed ? pts[(i+n)%n] : pts[Math.max(0, Math.min(n-1, i))];
  let d = 'M' + pts[0][0].toFixed(1) + ' ' + pts[0][1].toFixed(1);
  const segs = closed ? n : n-1;
  for (let i = 0; i < segs; i++){
    const p0 = at(i-1), p1 = at(i), p2 = at(i+1), p3 = at(i+2);
    d += 'C' + (p1[0]+(p2[0]-p0[0])/6).toFixed(1) + ' ' + (p1[1]+(p2[1]-p0[1])/6).toFixed(1) + ' ' +
         (p2[0]-(p3[0]-p1[0])/6).toFixed(1) + ' ' + (p2[1]-(p3[1]-p1[1])/6).toFixed(1) + ' ' +
         p2[0].toFixed(1) + ' ' + p2[1].toFixed(1);
  }
  return d + (closed ? 'Z' : '');
}
function linePath(pts, closed){
  return 'M' + pts.map(p => p[0].toFixed(1) + ' ' + p[1].toFixed(1)).join('L') + (closed ? 'Z' : '');
}

const root = document.getElementById('panels');
layout.forEach((panel, idx) => {
  const zero = colZero[panel.col];
  const xs = lon => zero + lon * DEG;
  const ys = lat => panel.top + (30 - lat) * DEG;
  const left = xs(-90), right = xs(90), top = ys(30), bottom = ys(-10);

  const g = mk('g', {}, root);
  
  

  const clip = mk('clipPath', {id:'clip' + idx}, g);
  mk('rect', {x:left, y:top, width:right-left, height:bottom-top}, clip);

  const title = mk('text', {x:colTitleX[panel.col], y:panel.titleBase, 'font-size':34.6, textLength:panel.titleWidth, lengthAdjust:'spacingAndGlyphs'}, g);
  title.textContent = panelTitles[idx];
  
  

  const body = mk('g', {'clip-path':'url(#clip' + idx + ')'}, g);
  
  

  const bg = mk('rect', {x:left, y:top, width:right-left, height:bottom-top, fill:colorFor(1)}, body);
  
  

  drawOrder.forEach(level => {
    panel.shade.filter(s => s[0] === level).forEach(s => {
      const band = mk('path', {d:smoothPath(project(s[1], xs, ys), true), fill:colorFor(level)}, body);
      
      
    });
  });

  const map = mk('g', {fill:'none', stroke:'#666', 'stroke-width':1.8, 'stroke-linejoin':'round'}, body);
  
  
  coastlines.forEach(c => { mk('path', {d:linePath(project(c, xs, ys), false)}, map); });
  borders.forEach(c => { mk('path', {d:linePath(project(c, xs, ys), false)}, map); });
  islands.forEach(c => { mk('path', {d:linePath(project(c, xs, ys), true)}, map); });
  smallIslandLon.forEach((lon, i) => {
    const dot = mk('circle', {cx:xs(lon), cy:ys(smallIslandLat[i]), r:1.5, fill:'#666', stroke:'none'}, map);
    
    
  });

  equatorOceanLon.forEach(r => {
    const eq = mk('line', {x1:xs(r[0]), x2:xs(r[1]), y1:ys(0), y2:ys(0), stroke:'#444', 'stroke-width':1.4, 'stroke-dasharray':'5 4'}, body);
    
    
  });
  primeMeridianOceanLat.forEach(r => {
    const pm = mk('line', {x1:xs(0), x2:xs(0), y1:ys(r[0]), y2:ys(r[1]), stroke:'#444', 'stroke-width':1.4, 'stroke-dasharray':'5 4'}, body);
    
    
  });

  panel.waves.forEach(w => {
    const c = mk('path', {d:smoothPath(project(w[2], xs, ys), !!w[1]), fill:'none', stroke:waveColor[w[0]], 'stroke-width':1.7}, body);
    
    
  });

  if (idx === 1){
    const hx = xs(hurricaneLon[0]), hy = ys(hurricaneLat[0]);
    const h = mk('g', {}, body);
    
    
    mk('ellipse', {cx:hx, cy:hy, rx:5, ry:8.5, fill:'#d40000', stroke:'#000', 'stroke-width':1.6}, h);
    mk('path', {d:'M' + (hx+1.5) + ' ' + (hy-3) + 'q1 4 -3 6', fill:'none', stroke:'#fff', 'stroke-width':1.4}, h);
  }

  const ticks = mk('g', {stroke:'#000', fill:'none'}, g);
  
  
  for (let lon = -90; lon <= 90; lon += 10){
    const major = lonTicks.includes(lon);
    const len = major ? 5 : 2.5;
    [top, bottom].forEach(y => mk('line', {x1:xs(lon), x2:xs(lon), y1:y-len, y2:y+len, 'stroke-width':major?2.2:1.4}, ticks));
  }
  for (let lat = -10; lat <= 30; lat += 2){
    const major = lat % 10 === 0;
    const len = major ? 4.5 : 1.8;
    [left, right].forEach(x => mk('line', {x1:x-len, x2:x+len, y1:ys(lat), y2:ys(lat), 'stroke-width':major?2.2:1.2}, ticks));
  }

  const frame = mk('rect', {x:left, y:top, width:right-left, height:bottom-top, fill:'none', stroke:'#000', 'stroke-width':2.4}, g);
  
  

  if (panel.col === 0){
    latTicks.forEach((lat, i) => {
      const t = mk('text', {x:74, y:ys(lat)+12, 'font-size':34, 'text-anchor':'end'}, g);
      t.textContent = latTickLabels[i];
      
      
    });
  }
  if (idx === 3 || idx === 7){
    lonTicks.forEach((lon, i) => {
      const t = mk('text', {x:xs(lon) - (lon === -60 ? 1 : 0), y:942, 'font-size':35, 'text-anchor':'middle'}, g);
      t.textContent = lonTickLabels[i];
      
      
    });
  }
});

// ---------- colorbar ----------
const cb = document.getElementById('colorbar');
const cbLeft = 229.7, cbStep = 54.85, cbTop = 1004, cbHeight = 24;
colorValues.forEach((col, i) => {
  const box = mk('rect', {x:cbLeft + i*cbStep, y:cbTop, width:cbStep, height:cbHeight, fill:col, stroke:'#000', 'stroke-width':1.5}, cb);
  
  
});
colorbarTicks.forEach((label, i) => {
  const t = mk('text', {x:cbLeft + (i+1)*cbStep, y:1057, 'font-size':30, 'text-anchor':'middle'}, cb);
  t.textContent = label;
  
  
});
</script>
</body>
</html>
